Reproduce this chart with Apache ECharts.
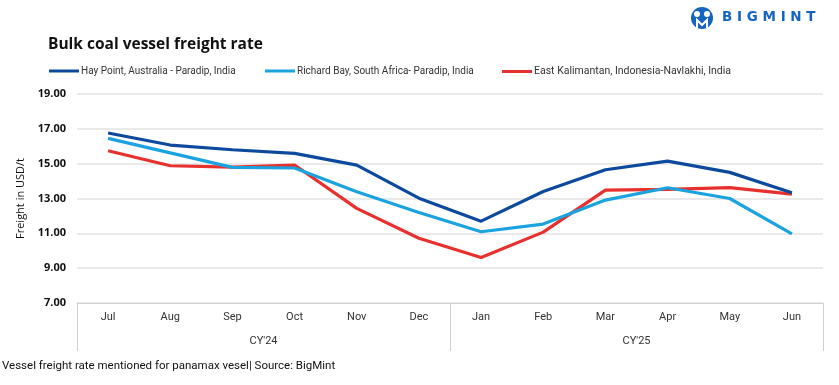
<!DOCTYPE html>
<html><head><meta charset="utf-8">
<script src="https://cdn.jsdelivr.net/npm/echarts@6/dist/echarts.min.js"></script>
<style>html,body{margin:0;padding:0;background:#fff}#c{width:839px;height:385px}</style>
</head><body><div id="c"></div>
<script>
const months = ['Jul','Aug','Sep','Oct','Nov','Dec','Jan','Feb','Mar','Apr','May','Jun'];
const years = ["CY'24","CY'25"];
const seriesNames = ['Hay Point, Australia - Paradip, India','Richard Bay, South Africa- Paradip, India','East Kalimantan, Indonesia-Navlakhi, India'];
const hayPoint = [16.76,16.07,15.80,15.59,14.92,13.02,11.70,13.40,14.65,15.15,14.50,13.33];
const richardBay = [16.45,15.62,14.79,14.75,13.39,12.20,11.09,11.53,12.91,13.62,13.00,10.97];
const eastKalimantan = [15.74,14.88,14.80,14.92,12.43,10.72,9.61,11.07,13.48,13.52,13.62,13.25];
const yTicks = {min:7, max:19, interval:2};
const colors = ['#0d4a9e','#1ba3e0','#e8302e'];
const font = 'Roboto,"Open Sans",sans-serif';

const chart = echarts.init(document.getElementById('c'), null, {renderer:'canvas'});
const legendX = [49, 265, 502];
chart.setOption({
  animation:false,
  color: colors,
  title:{text:'Bulk coal vessel freight rate', left:43, top:32,
    textStyle:{fontFamily:'"Open Sans",sans-serif', fontWeight:'bold', fontSize:15.5, color:'#111'}},
  legend: seriesNames.map((n,i)=>({data:[n], left:legendX[i], top:66, padding:0, itemWidth:30, itemHeight:3, itemGap:4,
    icon:'rect', textStyle:{fontFamily:font, fontSize:i===2?10.5:10, color:'#333', padding:[0,0,0,-3]}})),
  grid:{left:77, right:16, top:94, bottom:82},
  xAxis:[
    {type:'category', data:months, boundaryGap:true,
     axisLine:{lineStyle:{color:'#d0d0d0', width:1}}, axisTick:{show:false},
     axisLabel:{color:'#333', fontFamily:font, fontSize:11, margin:9}},
    {type:'category', data:years, position:'bottom', boundaryGap:true,
     axisLine:{show:false},
     axisTick:{show:true, length:48, lineStyle:{color:'#d0d0d0'}},
     axisLabel:{color:'#333', fontFamily:font, fontSize:11, margin:33}}
  ],
  yAxis:{type:'value', min:yTicks.min, max:yTicks.max, interval:yTicks.interval,
    name:'Freight in USD/t', nameLocation:'middle', nameGap:49, nameRotate:90,
    nameTextStyle:{fontFamily:'"Open Sans",sans-serif', fontSize:11, color:'#111'},
    axisLine:{show:false}, axisTick:{show:false},
    axisLabel:{formatter:v=>v.toFixed(2), fontFamily:'"Open Sans",sans-serif', fontWeight:'bold', fontSize:11, color:'#111', margin:11},
    splitLine:{lineStyle:{color:'#e3e3e3', width:1.5}}},
  series:[hayPoint, richardBay, eastKalimantan].map((d,i)=>({
    name:seriesNames[i], type:'line', data:d, symbol:'none', lineStyle:{width:3.2, color:colors[i]}, z:10-i
  })),
  graphic:[
    {type:'circle', shape:{cx:702, cy:18, r:11}, style:{fill:'#1565c0'}},
    {type:'circle', shape:{cx:697, cy:14, r:3}, style:{fill:'#fff'}},
    {type:'circle', shape:{cx:707, cy:14, r:3}, style:{fill:'#fff'}},
    {type:'polyline', shape:{points:[[697,28],[697,20],[702,25],[707,20],[707,28]]}, style:{stroke:'#fff', lineWidth:2, fill:null}},
    {type:'text', left:722, top:10, style:{text:'B I G M I N T', fontFamily:'"DejaVu Sans",sans-serif', fontWeight:'bold', fontSize:13.5, fill:'#1565c0'}},
    {type:'text', left:2, top:360, style:{text:'Vessel freight rate mentioned for panamax vesel| Source: BigMint', fontFamily:font, fontSize:11.5, fill:'#111'}}
  ]
});
</script></body></html>
